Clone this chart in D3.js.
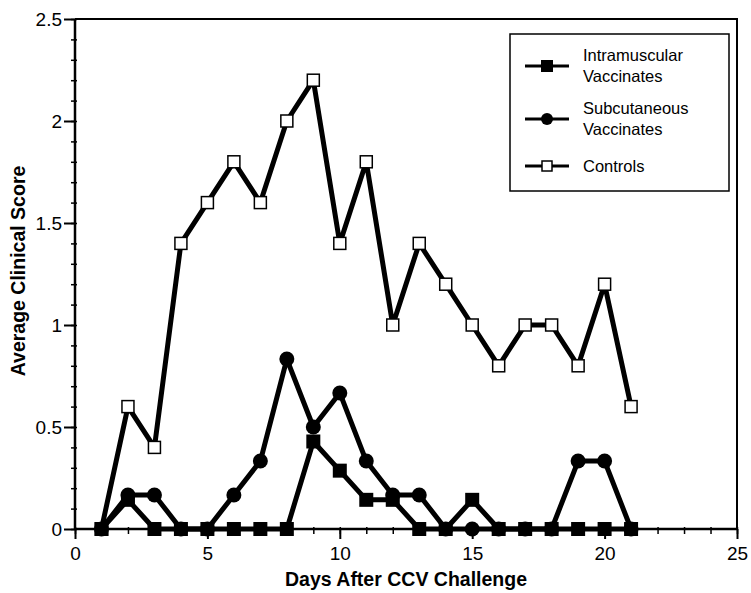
<!DOCTYPE html>
<html>
<head>
<meta charset="utf-8">
<script src="https://cdn.jsdelivr.net/npm/d3@7"></script>
<style>
  body { margin: 0; background: #fff; }
  svg text { font-family: "Liberation Sans", Arial, Helvetica, sans-serif; fill: #000; }
</style>
</head>
<body>
<svg id="chart" width="751" height="593"></svg>
<script>
// days after challenge
var days = [1, 2, 3, 4, 5, 6, 7, 8, 9, 10, 11, 12, 13, 14, 15, 16, 17, 18, 19, 20, 21];
var intramuscular = [0, 0.143, 0, 0, 0, 0, 0, 0, 0.429, 0.286, 0.143, 0.143, 0, 0, 0.143, 0, 0, 0, 0, 0, 0];
var subcutaneous = [0, 0.167, 0.167, 0, 0, 0.167, 0.333, 0.833, 0.5, 0.667, 0.333, 0.167, 0.167, 0, 0, 0, 0, 0, 0.333, 0.333, 0];
var controls = [0, 0.6, 0.4, 1.4, 1.6, 1.8, 1.6, 2.0, 2.2, 1.4, 1.8, 1.0, 1.4, 1.2, 1.0, 0.8, 1.0, 1.0, 0.8, 1.2, 0.6];
var xTicks = [0, 5, 10, 15, 20, 25];
var yTicks = [0, 0.5, 1, 1.5, 2, 2.5];
var legendNames = [["Intramuscular", "Vaccinates"], ["Subcutaneous", "Vaccinates"], ["Controls"]];

var svg = d3.select("#chart"),
    margin = {top: 19, right: 14, bottom: 64, left: 75},
    width = 751 - margin.left - margin.right,
    height = 593 - margin.top - margin.bottom;

var x = d3.scaleLinear().domain([0, 25]).range([0, width]),
    y = d3.scaleLinear().domain([0, 2.5]).range([height, 0]);

var g = svg.append("g")
    .attr("transform", "translate(" + margin.left + "," + margin.top + ")");

// frame top + right
g.append("path")
    .attr("d", "M0,0H" + width + "V" + height)
    .attr("fill", "none")
    .attr("stroke", "#000")
    .attr("stroke-width", 2);

// minor ticks
g.append("g")
    .attr("transform", "translate(0," + height + ")")
    .call(d3.axisBottom(x).tickValues(d3.range(0, 26, 1)).tickSize(5).tickFormat(""))
    .call(function(a){ a.select(".domain").remove(); a.selectAll("line").attr("stroke-width", 1.5).attr("y1", -2); });
g.append("g")
    .call(d3.axisLeft(y).tickValues(d3.range(0, 26, 1).map(function(v){ return v / 10; })).tickSize(4).tickFormat(""))
    .call(function(a){ a.select(".domain").remove(); a.selectAll("line").attr("stroke-width", 1.5).attr("x1", 2); });

// major axes
g.append("g")
    .attr("class", "axis axis--x")
    .attr("transform", "translate(0," + height + ")")
    .call(d3.axisBottom(x).tickValues(xTicks).tickSize(10).tickPadding(8).tickFormat(d3.format("d")))
    .call(function(a){
        a.select(".domain").attr("stroke-width", 2.5).attr("d", "M0,0H" + width);
        a.selectAll("line").attr("stroke-width", 2);
        a.selectAll("text").style("font-size", "19px");
    });

g.append("g")
    .attr("class", "axis axis--y")
    .call(d3.axisLeft(y).tickValues(yTicks).tickSize(11).tickPadding(2).tickFormat(function(d){ return String(d); }))
    .call(function(a){
        a.select(".domain").attr("stroke-width", 2.5).attr("d", "M0," + height + "V0");
        a.selectAll("line").attr("stroke-width", 2);
        a.selectAll("text").style("font-size", "19px");
    });

// axis titles
svg.append("text")
    .attr("x", margin.left + x(12.5))
    .attr("y", 586)
    .attr("text-anchor", "middle")
    .style("font-size", "19.5px")
    .style("font-weight", "bold")
    .text("Days After CCV Challenge");

svg.append("text")
    .attr("transform", "translate(25," + (margin.top + height / 2 - 3) + ") rotate(-90)")
    .attr("text-anchor", "middle")
    .style("font-size", "19.5px")
    .style("font-weight", "bold")
    .text("Average Clinical Score");

var line = d3.line()
    .x(function(d, i) { return x(days[i]); })
    .y(function(d) { return y(d); });

var series = [
    {values: controls, marker: "open"},
    {values: subcutaneous, marker: "circle"},
    {values: intramuscular, marker: "square"}
];

function drawMarker(sel, type, r) {
    if (type === "circle") {
        sel.append("circle").attr("r", r).attr("fill", "#000");
    } else if (type === "square") {
        sel.append("rect").attr("x", -r).attr("y", -r).attr("width", 2 * r).attr("height", 2 * r).attr("fill", "#000");
    } else {
        sel.append("rect").attr("x", -r + 1).attr("y", -r + 1).attr("width", 2 * r - 2).attr("height", 2 * r - 2)
            .attr("fill", "#fff").attr("stroke", "#000").attr("stroke-width", 1.5);
    }
}

series.forEach(function(s){
    g.append("path")
        .datum(s.values)
        .attr("fill", "none")
        .attr("stroke", "#000")
        .attr("stroke-width", 5)
        .attr("stroke-linejoin", "round")
        .attr("d", line);
});

series.forEach(function(s){
    var m = g.selectAll(".m-" + s.marker)
        .data(s.values)
        .enter()
        .append("g")
        .attr("class", "m-" + s.marker)
        .attr("transform", function(d, i){ return "translate(" + x(days[i]) + "," + y(d) + ")"; });
    drawMarker(m, s.marker, s.marker === "circle" ? 7.5 : 7);
});

// legend
var legend = svg.append("g").attr("transform", "translate(510,34)");
legend.append("rect")
    .attr("width", 219).attr("height", 157)
    .attr("fill", "#fff").attr("stroke", "#000").attr("stroke-width", 1.5);

var legendMarkers = ["square", "circle", "open"];
var legendY = [32, 85, 132];
legendNames.forEach(function(names, i){
    var row = legend.append("g").attr("transform", "translate(0," + legendY[i] + ")");
    row.append("line").attr("x1", 15).attr("x2", 59).attr("stroke", "#000").attr("stroke-width", 3);
    var mk = row.append("g").attr("transform", "translate(37,0)");
    drawMarker(mk, legendMarkers[i], 6);
    var t = row.append("text").attr("x", 73).style("font-size", "16.5px");
    if (names.length === 2) {
        t.append("tspan").attr("x", 73).attr("y", -5).text(names[0]);
        t.append("tspan").attr("x", 73).attr("y", 16).text(names[1]);
    } else {
        t.attr("y", 6).text(names[0]);
    }
});
</script>
</body>
</html>
